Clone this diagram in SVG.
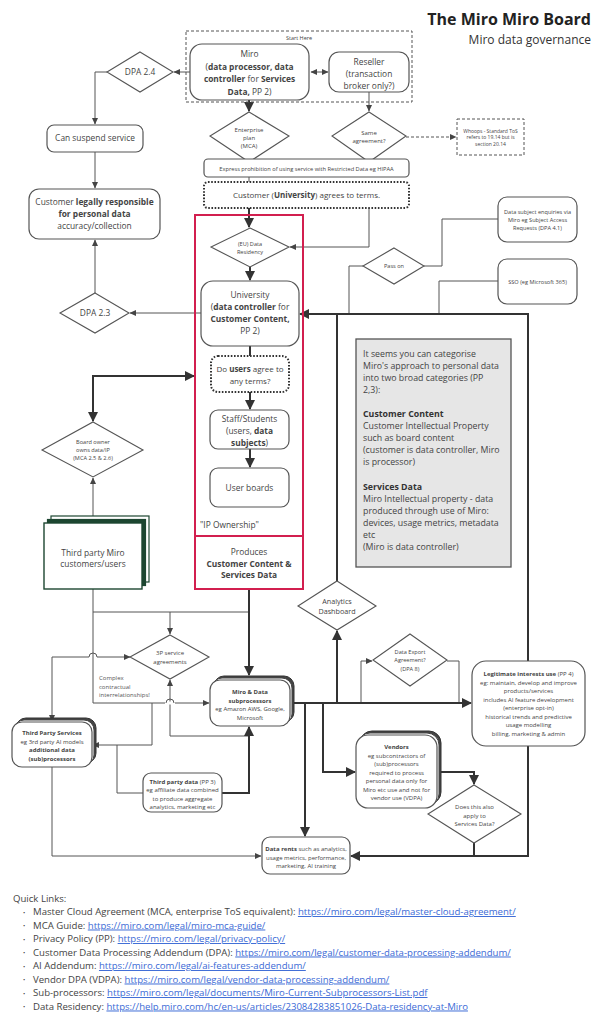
<svg xmlns="http://www.w3.org/2000/svg" width="599" height="1024" viewBox="0 0 599 1024">
<style>
text{font-family:"Open Sans","Noto Sans","Liberation Sans",sans-serif;fill:#444}
.m{font-size:8.4px;text-anchor:middle}
.s{font-size:6px;text-anchor:middle}
.xs{font-size:5.6px;text-anchor:middle}
.b{font-weight:700}
.box{fill:#fff;stroke:#555;stroke-width:1.2}
.dia{fill:#fff;stroke:#555;stroke-width:1.1}
.thin{fill:none;stroke:#555;stroke-width:1}
.thick{fill:none;stroke:#333;stroke-width:2}
.dot{fill:#fff;stroke:#333;stroke-width:2;stroke-dasharray:1.6 1.6}
.lk{font-size:9.6px;fill:#3b6ad6;text-decoration:underline}
.ql{font-size:9.6px;fill:#444}
</style>
<defs>
<marker id="a" markerUnits="userSpaceOnUse" markerWidth="7" markerHeight="7" refX="6" refY="3.5" orient="auto-start-reverse"><path d="M0,0.5 L6.5,3.5 L0,6.5 z" fill="#444"/></marker>
<marker id="A" markerUnits="userSpaceOnUse" markerWidth="11" markerHeight="11" refX="9" refY="5.5" orient="auto-start-reverse"><path d="M0,0.5 L10,5.5 L0,10.5 z" fill="#333"/></marker>
</defs>
<rect width="599" height="1024" fill="#fff"/>

<g id="title">
<text x="591" y="25" font-size="16" font-weight="700" text-anchor="end" style="fill:#222">The Miro Miro Board</text>
<text x="591" y="44" font-size="12" text-anchor="end" style="fill:#333">Miro data governance</text>
</g>

<g id="connectors">
<path class="thin" d="M190,72 H174" marker-end="url(#a)"/>
<path class="thin" d="M311,72 H328" marker-start="url(#a)" marker-end="url(#a)"/>
<path class="thin" d="M107,72 H95 V124" marker-end="url(#a)"/>
<path class="thin" d="M95,152 V188" marker-end="url(#a)"/>
<path class="thin" d="M95,293 V240" marker-end="url(#a)"/>
<path class="thin" d="M201,313 H130" marker-end="url(#a)"/>
<path class="thin" d="M369,92 V111" marker-end="url(#a)"/>
<path class="thin" d="M406,137 H456" stroke-dasharray="3 2" marker-end="url(#a)"/>
<path class="thin" d="M249,177 V182"/>
<path class="thin" d="M369,208 V247 H290" marker-end="url(#a)"/>
<path class="thin" d="M363,266 H349 V314"/>
<path class="thin" d="M424,266 H442 V219 H498"/>
<path class="thin" d="M498,281 H439 V314"/>
<path class="thin" d="M93,516 V478" marker-end="url(#a)"/>
<path class="thin" d="M93,589 V703 H209" marker-end="url(#a)"/>
<path class="thin" d="M93,612 H249"/>
<path class="thin" d="M170,612 V634" marker-end="url(#a)"/>
<path class="thin" d="M52,721 V657 H89 a4,4 0 0 1 8,0 H130" marker-start="url(#a)" marker-end="url(#a)"/>
<path class="thin" d="M170,736 V680" marker-end="url(#a)"/>
<path class="thin" d="M170,736 H249"/>
<path class="thin" d="M152,703 V745 H93" marker-end="url(#a)"/>
<path class="thin" d="M117,745 V793 H143"/>
<path class="thin" d="M52,767 V856 H261" marker-end="url(#a)"/>
<path class="thin" d="M361,703 V661 H372" marker-end="url(#a)"/>
<path class="thin" d="M447,661 H459 V703"/>
<path class="thick" d="M249,100 V111" marker-end="url(#A)"/>
<path class="thick" d="M249,208 V227" marker-end="url(#A)"/>
<path class="thick" d="M250,267 V280" marker-end="url(#A)"/>
<path class="thick" d="M250,346 V356"/>
<path class="thick" d="M250,392 V409" marker-end="url(#A)"/>
<path class="thick" d="M250,449 V467" marker-end="url(#A)"/>
<path class="thick" d="M194,376 H93 V421" marker-start="url(#A)" marker-end="url(#A)"/>
<path class="thick" d="M249,589 V675" marker-end="url(#A)"/>
<path class="thick" d="M222,793 H249 V727" marker-end="url(#A)"/>
<path class="thick" d="M290,703 H471" marker-end="url(#A)"/>
<path class="thick" d="M305,703 V836" marker-end="url(#A)"/>
<path class="thick" d="M337,703 V631" marker-end="url(#A)"/>
<path class="thick" d="M337,581 V314 H300" marker-end="url(#A)"/>
<path class="thick" d="M528,661 V314 H337"/>
<path class="thick" d="M528,746 V856 H351" marker-end="url(#A)"/>
<path class="thick" d="M323,703 V772 H355" marker-end="url(#A)"/>
<path class="thick" d="M437,772 H474 V784" marker-end="url(#A)"/>
<path class="thick" d="M474,843 V856"/>
<path d="M165,703 H175" stroke="#fff" stroke-width="3"/>
<path class="thin" d="M166,703 a4,4 0 0 1 8,0"/>
</g>

<g id="start-here">
<rect x="186" y="31" width="226" height="71" fill="none" stroke="#555" stroke-width="1" stroke-dasharray="3 2"/>
<text x="299" y="40" font-size="5.5" text-anchor="middle">Start Here</text>
</g>

<g id="miro">
<rect class="box" x="190" y="44" width="119" height="56" rx="12"/>
<text class="m" x="249.5" y="57">Miro</text>
<text class="m" x="249.5" y="69.5">(<tspan class="b">data processor, data</tspan></text>
<text class="m" x="249.5" y="82"><tspan class="b">controller</tspan> for <tspan class="b">Services</tspan></text>
<text class="m" x="249.5" y="94.5"><tspan class="b">Data,</tspan> PP 2)</text>
</g>

<g id="reseller">
<rect class="box" x="329" y="52" width="80" height="40" rx="10"/>
<text class="m" x="369" y="64.5">Reseller</text>
<text class="m" x="369" y="76.5">(transaction</text>
<text class="m" x="369" y="88.5">broker only?)</text>
</g>

<g id="dpa24">
<polygon class="dia" points="140,52 173,72 140,92 107,72"/>
<text class="m" x="140" y="75">DPA 2.4</text>
</g>

<g id="enterprise">
<polygon class="dia" points="249,112 289,136 249,162 210,136"/>
<text class="s" x="249" y="131.5">Enterprise</text>
<text class="s" x="249" y="139.5">plan</text>
<text class="s" x="249" y="148">(MCA)</text>
</g>

<g id="same">
<polygon class="dia" points="369,112 406,136 369,162 332,136"/>
<text class="s" x="369" y="134.5">Same</text>
<text class="s" x="369" y="143">agreement?</text>
</g>

<g id="whoops">
<rect x="457" y="119" width="67" height="36" fill="#fff" stroke="#555" stroke-width="1" stroke-dasharray="3 2"/>
<text x="490.5" y="132.5" font-size="5" text-anchor="middle">Whoops - Standard ToS</text>
<text x="490.5" y="139" font-size="5" text-anchor="middle">refers to 19.14 but is</text>
<text x="490.5" y="145.5" font-size="5" text-anchor="middle">section 20.14</text>
</g>

<g id="express">
<rect class="box" x="204" y="159" width="205" height="18" rx="4"/>
<text x="306.5" y="170.5" font-size="5.7" text-anchor="middle">Express prohibition of using service with Restricted Data eg HIPAA</text>
</g>

<g id="customer-agrees">
<rect class="dot" x="204" y="182" width="205" height="26" rx="4"/>
<text x="306.5" y="198" font-size="8" text-anchor="middle">Customer (<tspan class="b">University</tspan>) agrees to terms.</text>
</g>

<g id="suspend">
<rect class="box" x="47" y="125" width="96" height="27" rx="7"/>
<text class="m" x="95" y="141">Can suspend service</text>
</g>

<g id="legally">
<rect class="box" x="29" y="189" width="131" height="50" rx="10"/>
<text class="m" x="94.5" y="205">Customer <tspan class="b">legally responsible</tspan></text>
<text class="m b" x="94.5" y="217">for personal data</text>
<text class="m" x="94.5" y="229">accuracy/collection</text>
</g>

<g id="dpa23">
<polygon class="dia" points="95,293 129,313 95,333 60,313"/>
<text class="m" x="95" y="316">DPA 2.3</text>
</g>

<g id="ip-ownership">
<rect x="195" y="215" width="108" height="374" fill="none" stroke="#d21f4f" stroke-width="2"/>
<line x1="195" y1="536" x2="303" y2="536" stroke="#d21f4f" stroke-width="2"/>
<text x="200" y="528" font-size="8.4">"IP Ownership"</text>
<text class="m" x="249" y="555">Produces</text>
<text class="m b" x="249" y="566.5">Customer Content &amp;</text>
<text class="m b" x="249" y="578">Services Data</text>
</g>

<g id="eu">
<polygon class="dia" points="250,228 289,247 250,267 211,247"/>
<text class="xs" x="250" y="245.5">(EU) Data</text>
<text class="xs" x="250" y="253.5">Residency</text>
</g>

<g id="university">
<rect class="box" x="201" y="281" width="98" height="65" rx="12"/>
<text class="m" x="250" y="297.5">University</text>
<text class="m" x="250" y="309.5">(<tspan class="b">data controller</tspan> for</text>
<text class="m b" x="250" y="322">Customer Content,</text>
<text class="m" x="250" y="334">PP 2)</text>
</g>

<g id="users-agree">
<rect class="dot" x="211" y="356" width="78" height="36" rx="7"/>
<text x="250" y="371.5" font-size="8" text-anchor="middle">Do <tspan class="b">users</tspan> agree to</text>
<text x="250" y="383.5" font-size="8" text-anchor="middle">any terms?</text>
</g>

<g id="staff">
<rect class="box" x="210" y="410" width="79" height="39" rx="8"/>
<text class="m" x="249.5" y="421.5">Staff/Students</text>
<text class="m" x="249.5" y="433.5">(users, <tspan class="b">data</tspan></text>
<text class="m" x="249.5" y="445.5"><tspan class="b">subjects</tspan>)</text>
</g>

<g id="user-boards">
<rect class="box" x="210" y="468" width="79" height="39" rx="8"/>
<text class="m" x="249.5" y="491">User boards</text>
</g>

<g id="pass-on">
<polygon class="dia" points="394,248 424,266 394,284 363,266"/>
<text class="xs" x="394" y="268">Pass on</text>
</g>

<g id="data-subject">
<rect class="box" x="498" y="197" width="79" height="45" rx="9"/>
<text class="xs" x="537.5" y="213.5">Data subject enquiries via</text>
<text class="xs" x="537.5" y="221.5">Miro eg Subject Access</text>
<text class="xs" x="537.5" y="229.5">Requests (DPA 4.1)</text>
</g>

<g id="sso">
<rect class="box" x="498" y="259" width="79" height="45" rx="9"/>
<text class="xs" x="537.5" y="283.5">SSO (eg Microsoft 365)</text>
</g>

<g id="note">
<rect x="356" y="339" width="155" height="228" fill="#e6e6e6" stroke="#555" stroke-width="1.3"/>
<text x="363" y="357" font-size="8.8">It seems you can categorise</text>
<text x="363" y="369" font-size="8.8">Miro's approach to personal data</text>
<text x="363" y="381" font-size="8.8">into two broad categories (PP</text>
<text x="363" y="393" font-size="8.8">2,3):</text>
<text x="363" y="417" font-size="8.8" class="b" style="fill:#333">Customer Content</text>
<text x="363" y="429" font-size="8.8">Customer Intellectual Property</text>
<text x="363" y="441" font-size="8.8">such as board content</text>
<text x="363" y="453" font-size="8.8">(customer is data controller, Miro</text>
<text x="363" y="465" font-size="8.8">is processor)</text>
<text x="363" y="489.5" font-size="8.8" class="b" style="fill:#333">Services Data</text>
<text x="363" y="501.5" font-size="8.8">Miro Intellectual property - data</text>
<text x="363" y="513.5" font-size="8.8">produced through use of Miro:</text>
<text x="363" y="525.5" font-size="8.8">devices, usage metrics, metadata</text>
<text x="363" y="537.5" font-size="8.8">etc</text>
<text x="363" y="549.5" font-size="8.8">(Miro is data controller)</text>
</g>

<g id="analytics">
<polygon class="dia" points="337,581 376,606 337,630 298,606"/>
<text x="337" y="604" font-size="7.2" text-anchor="middle">Analytics</text>
<text x="337" y="614" font-size="7.2" text-anchor="middle">Dashboard</text>
</g>

<g id="data-export">
<polygon class="dia" points="410,634 447,660 410,686 373,660"/>
<text class="xs" x="410" y="654">Data Export</text>
<text class="xs" x="410" y="662">Agreement?</text>
<text class="xs" x="410" y="670.5">(DPA 8)</text>
</g>

<g id="legitimate">
<rect class="box" x="472" y="661" width="113" height="85" rx="14"/>
<text class="s" x="528.5" y="676"><tspan class="b">Legitimate interests use</tspan> (PP 4)</text>
<text class="s" x="528.5" y="684.5">eg: maintain, develop and improve</text>
<text class="s" x="528.5" y="693">products/services</text>
<text class="s" x="528.5" y="701.5">includes AI feature development</text>
<text class="s" x="528.5" y="710">(enterprise opt-in)</text>
<text class="s" x="528.5" y="718.5">historical trends and predictive</text>
<text class="s" x="528.5" y="727">usage modelling</text>
<text class="s" x="528.5" y="735.5">billing, marketing &amp; admin</text>
</g>

<g id="vendors">
<rect x="360" y="731" width="81" height="73" rx="12" fill="#444" stroke="#333"/>
<rect x="358" y="733" width="81" height="73" rx="12" fill="#fff" stroke="#444"/>
<rect class="box" x="356" y="735" width="81" height="73" rx="12"/>
<text class="s b" x="396.5" y="749">Vendors</text>
<text class="s" x="396.5" y="757.5">eg subcontractors of</text>
<text class="s" x="396.5" y="766">(sub)processors</text>
<text class="s" x="396.5" y="774.5">required to process</text>
<text class="s" x="396.5" y="783">personal data only for</text>
<text class="s" x="396.5" y="791.5">Miro etc use and not for</text>
<text class="s" x="396.5" y="800">vendor use (VDPA)</text>
</g>

<g id="also-apply">
<polygon class="dia" points="474,785 521,814 474,843 428,814"/>
<text class="s" x="474.5" y="809">Does this also</text>
<text class="s" x="474.5" y="817.5">apply to</text>
<text class="s" x="474.5" y="826">Services Data?</text>
</g>

<g id="data-rents">
<rect class="box" x="262" y="837" width="88" height="37" rx="8"/>
<text class="s" x="306" y="851"><tspan class="b">Data rents</tspan> such as analytics,</text>
<text class="s" x="306" y="859.5">usage metrics, performance,</text>
<text class="s" x="306" y="868">marketing, AI training</text>
</g>

<g id="subprocessors">
<rect x="214" y="676" width="80" height="46" rx="10" fill="#444" stroke="#333"/>
<rect x="212" y="678" width="80" height="46" rx="10" fill="#fff" stroke="#444"/>
<rect class="box" x="210" y="680" width="80" height="46" rx="10"/>
<text class="s b" x="250" y="694">Miro &amp; Data</text>
<text class="s b" x="250" y="702.5">subprocessors</text>
<text class="s" x="250" y="711">eg Amazon AWS, Google,</text>
<text class="s" x="250" y="719.5">Microsoft</text>
</g>

<g id="third-party-data">
<rect class="box" x="143" y="773" width="79" height="39" rx="8"/>
<text class="s" x="182.5" y="783.5"><tspan class="b">Third party data</tspan> (PP 3)</text>
<text class="s" x="182.5" y="792">eg affiliate data combined</text>
<text class="s" x="182.5" y="800.5">to produce aggregate</text>
<text class="s" x="182.5" y="809">analytics, marketing etc</text>
</g>

<g id="third-party-services">
<rect x="16" y="718" width="80" height="45" rx="10" fill="#444" stroke="#333"/>
<rect x="14" y="720" width="80" height="45" rx="10" fill="#fff" stroke="#444"/>
<rect class="box" x="12" y="722" width="80" height="45" rx="10"/>
<text class="s b" x="52" y="735">Third Party Services</text>
<text class="s" x="52" y="743.5">eg 3rd party AI models</text>
<text class="s b" x="52" y="752">additional data</text>
<text class="s b" x="52" y="760.5">(sub)processors</text>
</g>

<g id="third-party-customers">
<rect x="51" y="516" width="98" height="66" fill="#fff" stroke="#1d4631" stroke-width="1.2"/>
<rect x="47.5" y="519.5" width="98" height="66" fill="#1d4631" stroke="#1d4631" stroke-width="1.2"/>
<rect x="44" y="523" width="98" height="66" fill="#fff" stroke="#1d4631" stroke-width="1.4"/>
<text class="m" x="93" y="555.5">Third party Miro</text>
<text class="m" x="93" y="567">customers/users</text>
</g>

<g id="board-owner">
<polygon class="dia" points="93,422 143,450 93,477 42,450"/>
<text class="xs" x="93" y="443.5">Board owner</text>
<text class="xs" x="93" y="451.5">owns data/IP</text>
<text class="xs" x="93" y="459.5">(MCA 2.5 &amp; 2.6)</text>
</g>

<g id="service-agreements">
<polygon class="dia" points="170,635 209,657 170,679 130,657"/>
<text class="s" x="170" y="655">3P service</text>
<text class="s" x="170" y="663.5">agreements</text>
</g>

<g id="complex-note">
<text x="99" y="680" font-size="6" style="fill:#555">Complex</text>
<text x="99" y="688.5" font-size="6" style="fill:#555">contractual</text>
<text x="99" y="697" font-size="6" style="fill:#555">interrelationships!</text>
</g>

<g id="quick-links">
<text class="ql" x="13" y="902">Quick Links:</text>
<text x="23" y="914.5" font-size="6">•</text>
<text x="23" y="928" font-size="6">•</text>
<text x="23" y="941.5" font-size="6">•</text>
<text x="23" y="955" font-size="6">•</text>
<text x="23" y="968.5" font-size="6">•</text>
<text x="23" y="982" font-size="6">•</text>
<text x="23" y="995.5" font-size="6">•</text>
<text x="23" y="1009" font-size="6">•</text>
<text class="ql" x="33" y="915">Master Cloud Agreement (MCA, enterprise ToS equivalent): <tspan class="lk">https://miro.com/legal/master-cloud-agreement/</tspan></text>
<text class="ql" x="33" y="928.5">MCA Guide: <tspan class="lk">https://miro.com/legal/miro-mca-guide/</tspan></text>
<text class="ql" x="33" y="942">Privacy Policy (PP): <tspan class="lk">https://miro.com/legal/privacy-policy/</tspan></text>
<text class="ql" x="33" y="955.5">Customer Data Processing Addendum (DPA): <tspan class="lk">https://miro.com/legal/customer-data-processing-addendum/</tspan></text>
<text class="ql" x="33" y="969">AI Addendum: <tspan class="lk">https://miro.com/legal/ai-features-addendum/</tspan></text>
<text class="ql" x="33" y="982.5">Vendor DPA (VDPA): <tspan class="lk">https://miro.com/legal/vendor-data-processing-addendum/</tspan></text>
<text class="ql" x="33" y="996">Sub-processors: <tspan class="lk">https://miro.com/legal/documents/Miro-Current-Subprocessors-List.pdf</tspan></text>
<text class="ql" x="33" y="1009.5">Data Residency: <tspan class="lk">https://help.miro.com/hc/en-us/articles/23084283851026-Data-residency-at-Miro</tspan></text>
</g>
</svg>
